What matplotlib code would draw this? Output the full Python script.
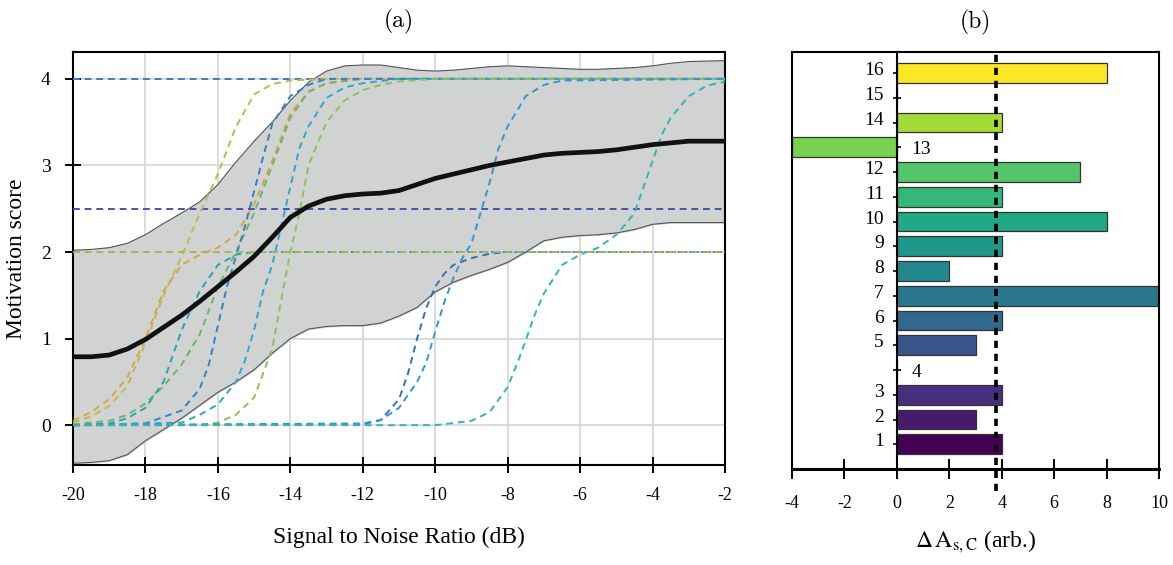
import numpy as np
import matplotlib
matplotlib.use('Agg')
import matplotlib.pyplot as plt

plt.rcParams['font.family'] = ['Liberation Serif', 'DejaVu Serif']
plt.rcParams['mathtext.fontset'] = 'stix'
plt.rcParams['axes.unicode_minus'] = False

# ---- panel (a): motivation score vs SNR ----
snr_band = [-20, -19.5, -19, -18.5, -18, -17.5, -17, -16.5, -16, -15.5, -15, -14.5, -14, -13.5, -13, -12.5,
            -12, -11.5, -11, -10.5, -10, -9.5, -9, -8.5, -8, -7.5, -7, -6.5, -6, -5.5, -5, -4.5, -4, -3.5, -3, -2]
score_mean = [0.79, 0.79, 0.81, 0.88, 0.99, 1.13, 1.27, 1.43, 1.6, 1.77, 1.95, 2.17, 2.4, 2.53, 2.61, 2.65,
              2.67, 2.68, 2.71, 2.78, 2.85, 2.9, 2.95, 3.0, 3.04, 3.08, 3.12, 3.14, 3.15, 3.16, 3.18, 3.21, 3.24, 3.26, 3.28, 3.28]
score_upper = [2.02, 2.03, 2.05, 2.1, 2.2, 2.33, 2.45, 2.58, 2.78, 3.04, 3.28, 3.5, 3.75, 3.96, 4.09, 4.15,
               4.16, 4.16, 4.13, 4.1, 4.09, 4.1, 4.12, 4.14, 4.15, 4.14, 4.13, 4.12, 4.11, 4.11, 4.12, 4.13, 4.15, 4.18, 4.2, 4.21]
score_lower = [-0.44, -0.43, -0.41, -0.34, -0.18, -0.05, 0.08, 0.23, 0.38, 0.5, 0.64, 0.83, 1.0, 1.11, 1.14, 1.15,
               1.15, 1.18, 1.26, 1.36, 1.54, 1.65, 1.73, 1.8, 1.88, 2.0, 2.13, 2.17, 2.19, 2.2, 2.22, 2.26, 2.32, 2.34, 2.34, 2.34]

# individual participants (x, y, colour)
participants = [
    ([-20, -2], [4.0, 4.0], '#3a7dc8'),
    ([-20, -2], [2.5, 2.5], '#4a52b3'),
    ([-20, -19.5, -19, -18.5, -18, -17.5, -17, -16.5, -16, -15.5, -15, -14.5, -14, -13, -2],
     [0.03, 0.1, 0.22, 0.45, 0.95, 1.5, 1.95, 2.45, 2.9, 3.45, 3.82, 3.94, 3.98, 4.0, 4.0], '#c6b848'),
    ([-20, -19.5, -19, -18.5, -18, -17.5, -17, -16.5, -16, -15.5, -15, -14.5, -14, -13.5, -13, -12, -2],
     [0.05, 0.15, 0.3, 0.55, 1.0, 1.55, 1.85, 1.97, 2.05, 2.2, 2.55, 3.05, 3.6, 3.85, 3.95, 4.0, 4.0], '#d6a645'),
    ([-20, -19, -18.5, -18, -17.5, -17, -16.5, -16, -15.5, -15, -14.5, -14, -13.5, -13, -12, -2],
     [0.01, 0.05, 0.12, 0.25, 0.45, 0.7, 1.05, 1.6, 2.0, 2.45, 3.0, 3.55, 3.85, 3.95, 4.0, 4.0], '#6db56b'),
    ([-20, -19, -18.5, -18, -17.5, -17, -16.5, -16, -15.5, -15, -2],
     [0.0, 0.02, 0.08, 0.2, 0.5, 1.1, 1.55, 1.85, 1.97, 2.0, 2.0], '#2aa3b8'),
    ([-20, -18, -17, -16.5, -16.25, -16, -15.75, -15.5, -15.25, -15, -14.75, -14.5, -14, -13.5, -13, -2],
     [0.0, 0.02, 0.17, 0.42, 0.7, 1.15, 1.6, 1.95, 2.3, 2.7, 3.1, 3.48, 3.8, 3.93, 4.0, 4.0], '#3580c8'),
    ([-20, -17, -16.5, -16, -15.5, -15.25, -15, -14.75, -14.5, -14.25, -14, -13.75, -13.5, -13, -12.5, -12, -11, -2],
     [0.0, 0.03, 0.12, 0.24, 0.5, 0.75, 1.1, 1.55, 1.85, 2.3, 2.75, 3.2, 3.45, 3.78, 3.9, 3.95, 4.0, 4.0], '#2ea6d2'),
    ([-20, -16.5, -16, -15.5, -15, -14.75, -14.5, -14.25, -14, -13.75, -13.5, -13, -12.5, -12, -11.5, -11, -10, -2],
     [0.0, 0.0, 0.03, 0.12, 0.32, 0.6, 0.88, 1.45, 2.0, 2.45, 3.0, 3.5, 3.75, 3.87, 3.93, 3.97, 4.0, 4.0], '#8fc05a'),
    ([-20, -12, -11.5, -11, -10.75, -10.5, -10.25, -10, -9.75, -9.5, -9, -8.5, -8, -2],
     [0.0, 0.01, 0.06, 0.3, 0.6, 1.0, 1.35, 1.6, 1.75, 1.85, 1.93, 1.98, 2.0, 2.0], '#2f6fc4'),
    ([-20, -12, -11.5, -11, -10.5, -10.25, -10, -9.75, -9.5, -9.25, -9, -8.75, -8.5, -8.25, -8, -7.5, -7, -6.5, -2],
     [0.0, 0.02, 0.06, 0.2, 0.5, 0.72, 1.08, 1.42, 1.7, 1.93, 2.1, 2.45, 2.8, 3.2, 3.45, 3.8, 3.93, 3.98, 4.0], '#3398d2'),
    ([-20, -10, -9, -8.5, -8, -7.75, -7.5, -7.25, -7, -6.5, -6, -5.5, -5, -4.75, -4.5, -4.25, -4, -3.75, -3.5, -3, -2.5, -2],
     [0.0, 0.0, 0.05, 0.15, 0.44, 0.7, 0.98, 1.28, 1.52, 1.85, 1.97, 2.05, 2.2, 2.32, 2.45, 2.75, 3.05, 3.35, 3.55, 3.8, 3.92, 3.97], '#30b6b6'),
    ([-20, -2], [2.0, 2.0], '#a9b25c'),
]

# ---- panel (b): delta A per participant ----
participant_ids = list(range(1, 17))
delta_a = [4, 3, 4, 0, 3, 4, 10, 2, 4, 8, 4, 7, -4, 4, 0, 8]
delta_threshold = 3.8

fig = plt.figure(figsize=(11.73, 5.65), dpi=100)

ax = fig.add_axes([73/1173, 1 - 465/565, (725 - 73)/1173, (465 - 52)/565])
ax.set_xlim(-20, -2)
ax.set_ylim(-0.46, 4.31)

ax.fill_between(snr_band, score_lower, score_upper, color='#d1d2d2', zorder=1)
ax.plot(snr_band, score_upper, color='#555555', lw=0.8, zorder=2)
ax.plot(snr_band, score_lower, color='#555555', lw=0.8, zorder=2)

for x, y, c in participants:
    ax.plot(x, y, color=c, lw=1.4, ls=(0, (3.5, 2.5)), zorder=3)

ax.plot(snr_band, score_mean, color='#111111', lw=3.4, zorder=4, solid_capstyle='round')

ax.set_xticks(range(-20, -1, 2))
ax.set_yticks([0, 1, 2, 3, 4])
ax.grid(True, color='#d9d9d9', lw=1.3, zorder=0)
ax.set_axisbelow(True)
ax.tick_params(direction='inout', length=12, width=1.4, labelsize=13, pad=10)
ax.tick_params(axis='y', labelsize=14)
for s in ax.spines.values():
    s.set_linewidth(1.5)
ax.set_xlabel('Signal to Noise Ratio (dB)', fontsize=17, labelpad=16)
ax.set_ylabel('Motivation score', fontsize=17, labelpad=10)
ax.set_title('(a)', fontsize=17, family='cmr10', pad=18)

# ---- right panel ----
bx = fig.add_axes([792/1173, 1 - 469/565, (1159 - 792)/1173, (469 - 52)/565])
colors = plt.cm.viridis(np.linspace(0, 1, 16))
bx.barh(participant_ids, delta_a, height=0.8, color=colors, edgecolor='#333333', lw=0.9, zorder=2)
bx.set_xlim(-4, 10)
bx.set_ylim(0, 16.85)
bx.spines['left'].set_position(('data', 0))
bx.axvline(-4, color='k', lw=1.5, clip_on=False)
bx.spines['left'].set_linewidth(1.5)
bx.spines['top'].set_linewidth(1.5)
bx.spines['right'].set_linewidth(1.5)
bx.spines['bottom'].set_linewidth(2.2)
bx.set_yticks(participant_ids)
bx.tick_params(axis='y', direction='inout', length=6, width=1.2, labelleft=False)
bx.tick_params(axis='x', direction='inout', length=14, width=1.4, labelsize=13, pad=12)
bx.set_xticks(range(-4, 11, 2))
for pid, val in zip(participant_ids, delta_a):
    if pid in (4, 13):
        bx.text(0.55, pid - 0.1, str(pid), ha='left', va='center', fontsize=14)
    else:
        bx.text(-0.5, pid + 0.1, str(pid), ha='right', va='center', fontsize=14)
bx.plot([delta_threshold, delta_threshold], [-0.9, 16.85], color='k', lw=2.6,
        ls=(0, (2, 1.6)), clip_on=False, zorder=3)
bx.set_xlabel(r'$\Delta\,\mathrm{A}_{\mathrm{s,C}}$ (arb.)', fontsize=17, labelpad=12)
bx.set_title('(b)', fontsize=17, family='cmr10', pad=17)

fig.savefig('out.png', dpi=100)
